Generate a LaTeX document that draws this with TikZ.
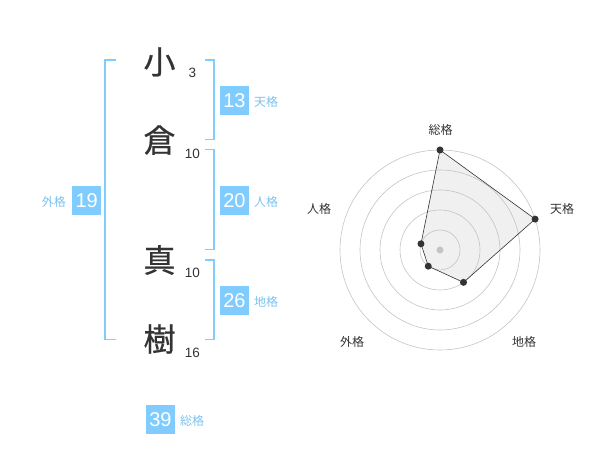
\documentclass[tikz,border=0pt]{standalone}
\usepackage{fontspec}
\setmainfont{Liberation Sans}
\newfontfamily\jp{Noto Sans CJK JP}
\newfontfamily\jpb[FakeBold=0.6]{Noto Sans CJK JP}
\definecolor{boxblue}{HTML}{80CCFF}
\definecolor{lblblue}{HTML}{7BC3EE}
\definecolor{ink}{HTML}{333333}
\definecolor{ringgray}{HTML}{C4C4C4}
\definecolor{polyfill}{HTML}{F0F0F0}
\begin{document}
\begin{tikzpicture}[x=1pt,y=-1pt,
  kanji/.style={font=\jpb\fontsize{32}{32}\selectfont, text=ink, inner sep=0pt},
  stroke/.style={font=\fontsize{13.5}{13.5}\selectfont, text=ink, inner sep=0pt},
  numbox/.style={fill=boxblue, text=white, minimum width=29pt, minimum height=29pt, inner sep=0pt, font=\fontsize{20}{20}\selectfont},
  lbl/.style={font=\jp\fontsize{12}{12}\selectfont, text=lblblue, inner sep=0pt},
  bracket/.style={draw=boxblue, line width=1.8pt},
  axlbl/.style={font=\jp\fontsize{12}{12}\selectfont, text=ink, inner sep=0pt},
  ring/.style={draw=ringgray, line width=0.6pt},
  dot/.style={circle, fill=ink, minimum size=7pt, inner sep=0pt}]
\useasboundingbox (0,0) rectangle (600,470);
% characters
\node[kanji] (k1) at (159.5,62) {小};
\node[kanji] (k2) at (159.5,140) {倉};
\node[kanji] (k3) at (159.5,260) {真};
\node[kanji] (k4) at (159.5,339) {樹};
\node[stroke] (s1) at (192.5,73) {3};
\node[stroke] (s2) at (192.5,153.5) {10};
\node[stroke] (s3) at (192.5,272.5) {10};
\node[stroke] (s4) at (192.5,353) {16};
% brackets
\coordinate (Lt) at (115.5,60);
\coordinate (Lb) at (115.5,339.5);
\draw[bracket] (Lt) -| (105.3,339.5) -- (Lb);
\coordinate (T1) at (205,60);
\coordinate (B1) at (205,139.5);
\draw[bracket] (T1) -| (214.3,139.5) -- (B1);
\coordinate (T2) at (205,149.5);
\coordinate (B2) at (205,249.5);
\draw[bracket] (T2) -| (214.3,249.5) -- (B2);
\coordinate (T3) at (205,260);
\coordinate (B3) at (205,339.5);
\draw[bracket] (T3) -| (214.3,339.5) -- (B3);
% boxes
\node[numbox] (ten) at (234.5,100.3) {13};
\node[lbl, anchor=west] (tenl) at (254,101.5) {天格};
\node[numbox] (jin) at (234.5,200.3) {20};
\node[lbl, anchor=west] (jinl) at (254,201.5) {人格};
\node[numbox] (chi) at (234.5,300.3) {26};
\node[lbl, anchor=west] (chil) at (254,301.5) {地格};
\node[numbox] (gai) at (86.7,200.3) {19};
\node[lbl, anchor=east] (gail) at (66,201.5) {外格};
\node[numbox] (so) at (160.5,419.5) {39};
\node[lbl, anchor=west] (sol) at (180,420.7) {総格};
% radar
\coordinate (C) at (440,250);
\path (C) ++(-90:100) coordinate (p1);
\path (C) ++(-18:100) coordinate (p2);
\path (C) ++(54:40) coordinate (p3);
\path (C) ++(126:20) coordinate (p4);
\path (C) ++(198:20) coordinate (p5);
\fill[polyfill] (p1) -- (p2) -- (p3) -- (p4) -- (p5) -- cycle;
\foreach \r in {20,40,60,80,100} \draw[ring] (C) circle[radius=\r];
\fill[ringgray] (C) circle[radius=3.5];
\node[axlbl] (a1) at (440.5,130) {総格};
\node[axlbl] (a2) at (562,208.5) {天格};
\node[axlbl] (a3) at (524,341.5) {地格};
\node[axlbl] (a4) at (352,341.5) {外格};
\node[axlbl] (a5) at (319,208.5) {人格};
\draw[ink, line width=0.6pt] (p1) -- (p2) -- (p3) -- (p4) -- (p5) -- cycle;
\foreach \p in {p1,p2,p3,p4,p5} \node[dot] (d\p) at (\p) {};
\end{tikzpicture}
\end{document}
